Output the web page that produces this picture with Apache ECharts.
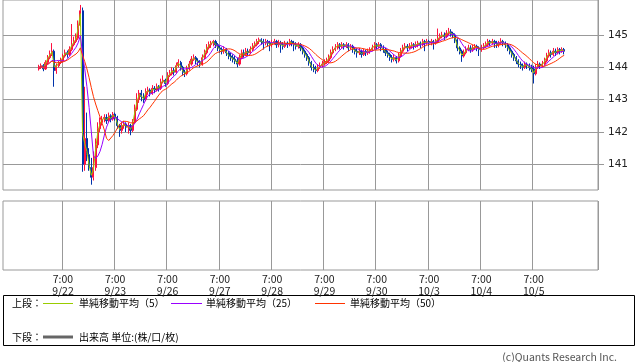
<!DOCTYPE html>
<html><head><meta charset="utf-8">
<script src="https://cdn.jsdelivr.net/npm/echarts@6/dist/echarts.min.js"></script>
<style>html,body{margin:0;padding:0;background:#fff}#c{width:638px;height:362px}</style>
</head><body><div id="c"></div><script>
// Tick labels
const dayLabels = ['9/22','9/23','9/26','9/27','9/28','9/29','9/30','10/3','10/4','10/5'];
const timeLabel = '7:00';
const yTicks = [141,142,143,144,145];
// moving-average periods (in 15-minute bars) and bars per hourly slot
const maPeriods = [5, 25, 50];
const barsPerHour = 4;
// hourly bars
const open0 = 143.95;
const closes = [
144.00,144.05,143.95,144.15,144.30,144.40,144.50,143.90,144.05,144.15,
144.20,144.35,144.45,144.40,144.55,144.70,144.80,144.90,145.30,145.75,
141.00,141.80,141.30,140.90,140.60,140.90,141.60,142.10,142.30,142.40,
142.45,142.35,142.50,142.40,142.55,142.45,142.20,142.05,142.20,142.25,
142.15,142.20,142.05,142.30,142.70,143.00,143.20,143.10,143.00,143.25,
143.30,143.20,143.35,143.30,143.40,143.35,143.55,143.60,143.50,143.75,
143.80,143.90,143.85,144.05,144.15,144.00,143.85,143.80,143.95,144.10,
144.25,144.30,144.20,144.15,144.10,144.30,144.45,144.60,144.70,144.75,
144.80,144.70,144.60,144.55,144.50,144.55,144.45,144.35,144.30,144.25,
144.20,144.10,144.30,144.45,144.40,144.50,144.45,144.55,144.65,144.70,
144.80,144.85,144.80,144.75,144.80,144.75,144.70,144.75,144.80,144.70,
144.75,144.70,144.65,144.75,144.70,144.80,144.75,144.70,144.65,144.70,
144.60,144.50,144.40,144.30,144.15,144.00,143.95,143.90,144.00,144.05,
144.10,144.15,144.20,144.30,144.45,144.55,144.60,144.70,144.65,144.70,
144.65,144.70,144.60,144.65,144.55,144.50,144.45,144.50,144.40,144.50,
144.45,144.50,144.55,144.60,144.70,144.65,144.70,144.60,144.55,144.45,
144.40,144.30,144.25,144.30,144.20,144.35,144.50,144.60,144.65,144.60,
144.65,144.70,144.65,144.70,144.75,144.70,144.80,144.75,144.80,144.75,
144.80,144.75,144.80,144.90,144.95,145.00,144.95,145.05,145.10,145.05,
145.00,144.85,144.60,144.50,144.35,144.45,144.55,144.60,144.55,144.60,
144.65,144.60,144.55,144.60,144.65,144.70,144.80,144.75,144.80,144.75,
144.70,144.75,144.80,144.75,144.70,144.60,144.50,144.40,144.30,144.20,
144.10,144.05,144.00,144.10,144.05,144.00,143.95,143.80,144.00,144.10,
144.05,144.10,144.20,144.35,144.45,144.40,144.50,144.45,144.55,144.50,
144.55,144.50];
const highs = [
144.08,144.12,144.10,144.22,144.38,144.52,144.75,144.55,144.12,144.20,
144.30,144.42,144.55,144.52,144.65,145.34,144.95,145.05,145.45,145.93,
145.85,143.40,142.60,141.50,141.20,141.40,141.80,142.30,142.45,142.50,
142.55,142.55,142.60,142.55,142.62,142.60,142.50,142.25,142.30,142.35,
142.30,142.30,142.25,142.40,142.85,143.20,143.30,143.30,143.20,143.35,
143.40,143.35,143.45,143.42,143.50,143.45,143.65,143.75,143.65,143.85,
143.92,144.00,143.98,144.15,144.25,144.20,144.05,143.92,144.05,144.20,
144.35,144.40,144.35,144.28,144.22,144.40,144.55,144.72,144.80,144.82,
144.85,144.85,144.75,144.68,144.62,144.65,144.60,144.50,144.45,144.40,
144.35,144.30,144.40,144.55,144.55,144.60,144.58,144.65,144.75,144.80,
144.88,144.92,144.90,144.88,144.88,144.85,144.82,144.85,144.88,144.85,
144.85,144.82,144.78,144.82,144.80,144.88,144.85,144.82,144.78,144.78,
144.75,144.65,144.55,144.45,144.35,144.20,144.10,144.05,144.10,144.15,
144.20,144.25,144.30,144.40,144.55,144.65,144.72,144.78,144.75,144.78,
144.75,144.78,144.75,144.72,144.70,144.62,144.58,144.60,144.55,144.58,
144.55,144.58,144.62,144.70,144.78,144.75,144.78,144.75,144.68,144.60,
144.52,144.45,144.38,144.40,144.35,144.45,144.60,144.70,144.75,144.72,
144.75,144.78,144.75,144.80,144.82,144.80,144.88,144.85,144.88,144.85,
144.88,144.85,144.88,145.20,145.05,145.10,145.08,145.15,145.22,145.18,
145.10,145.05,144.90,144.65,144.55,144.55,144.65,144.70,144.68,144.70,
144.72,144.70,144.65,144.70,144.75,144.80,144.88,144.85,144.88,144.85,
144.82,144.82,144.90,144.85,144.80,144.75,144.65,144.55,144.45,144.35,
144.25,144.18,144.12,144.18,144.15,144.12,144.08,144.05,144.10,144.20,
144.15,144.20,144.30,144.45,144.55,144.52,144.60,144.58,144.62,144.60,
144.62,144.60];
const lows = [
143.90,143.95,143.88,143.92,144.10,144.25,144.35,143.40,143.80,144.00,
144.10,144.15,144.30,144.30,144.35,144.50,144.65,144.75,144.85,145.25,
140.77,140.80,141.10,140.80,140.37,140.50,140.80,141.50,142.00,142.20,
142.30,142.25,142.30,142.30,142.35,142.35,142.10,141.85,141.95,142.10,
142.00,141.95,141.90,142.00,142.25,142.65,142.90,142.95,142.90,142.95,
143.15,143.10,143.15,143.20,143.25,143.25,143.30,143.50,143.40,143.45,
143.70,143.75,143.75,143.80,144.00,143.90,143.75,143.70,143.75,143.90,
144.05,144.20,144.10,144.05,144.00,144.05,144.25,144.40,144.55,144.60,
144.65,144.60,144.50,144.45,144.40,144.42,144.35,144.25,144.20,144.15,
144.10,144.00,144.05,144.25,144.30,144.35,144.35,144.40,144.50,144.60,
144.65,144.72,144.70,144.55,144.68,144.65,144.50,144.62,144.70,144.60,
144.62,144.45,144.55,144.60,144.60,144.65,144.65,144.50,144.55,144.58,
144.50,144.40,144.30,144.20,144.05,143.90,143.85,143.80,143.85,143.95,
144.00,144.05,144.10,144.15,144.25,144.40,144.50,144.55,144.55,144.60,
144.55,144.60,144.50,144.55,144.45,144.40,144.30,144.38,144.30,144.35,
144.35,144.38,144.42,144.50,144.55,144.55,144.58,144.50,144.45,144.35,
144.30,144.20,144.15,144.18,144.12,144.15,144.30,144.45,144.55,144.50,
144.55,144.58,144.55,144.60,144.62,144.60,144.65,144.50,144.70,144.65,
144.68,144.55,144.70,144.75,144.85,144.90,144.85,144.90,145.00,144.95,
144.90,144.75,144.50,144.40,144.17,144.30,144.40,144.50,144.45,144.48,
144.55,144.50,144.35,144.48,144.55,144.60,144.65,144.65,144.70,144.60,
144.60,144.62,144.70,144.65,144.60,144.50,144.40,144.30,144.20,144.10,
144.00,143.95,143.90,143.95,143.95,143.90,143.85,143.50,143.75,143.95,
143.95,144.00,144.05,144.15,144.30,144.30,144.35,144.35,144.40,144.40,
144.45,144.40];

// axis structure: hourly slots; first slot of each 7:00 session
const totalSlots = 273;
const firstBarSlot = 16;
const firstDaySlot = 27;
const hoursPerDay = 24;

const cats = [];
for (let i = 0; i < totalSlots; i++) cats.push('s' + i);

const candle = [];
for (let i = 0; i < totalSlots; i++) {
  const k = i - firstBarSlot;
  if (k >= 0 && k < closes.length) {
    const o = k === 0 ? open0 : closes[k - 1];
    candle.push([o, closes[k], lows[k], highs[k]]);
  } else candle.push('-');
}
// rolling mean over the same time span as an N-bar 15-minute average
function ma(period) {
  const span = period / barsPerHour;
  const out = [];
  for (let i = 0; i < totalSlots; i++) {
    const k = i - firstBarSlot;
    if (k >= 0 && k < closes.length) {
      let rem = span, sum = 0, wt = 0;
      for (let j = 0; rem > 1e-9 && k - j >= 0; j++) {
        const a = Math.min(1, rem);
        sum += a * closes[k - j]; wt += a; rem -= a;
      }
      out.push(+(sum / wt).toFixed(4));
    } else out.push(null);
  }
  return out;
}
const isDay = (idx) => idx >= firstDaySlot && (idx - firstDaySlot) % hoursPerDay === 0 && (idx - firstDaySlot) / hoursPerDay < dayLabels.length;

const FONT = '"Noto Sans CJK JP", "Noto Sans", sans-serif';
const chart = echarts.init(document.getElementById('c'), null, {renderer: 'canvas'});
const gridLine = {show: true, interval: (idx) => isDay(idx), lineStyle: {color: '#999', width: 1}};
const maColors = ['#99cc00', '#9900ff', '#ff3300'];
chart.setOption({
  animation: false,
  backgroundColor: '#fff',
  grid: [
    {left: 3, top: 0, width: 595, height: 190, show: true, borderColor: '#999', borderWidth: 1, backgroundColor: '#fff'},
    {left: 3, top: 201, width: 595, height: 69, show: true, borderColor: '#999', borderWidth: 1, backgroundColor: '#fff'}
  ],
  xAxis: [
    {type: 'category', gridIndex: 0, data: cats, boundaryGap: true,
     axisLine: {show: false}, axisTick: {show: false}, axisLabel: {show: false}, splitLine: gridLine},
    {type: 'category', gridIndex: 1, data: cats, boundaryGap: true,
     axisLine: {show: false}, axisTick: {show: false}, splitLine: gridLine,
     axisLabel: {show: true, interval: (idx) => isDay(idx), margin: 3,
       formatter: (v, idx) => timeLabel + '\n' + dayLabels[(idx - firstDaySlot) / hoursPerDay],
       fontFamily: FONT, fontSize: 10.5, lineHeight: 12, color: '#222'}}
  ],
  yAxis: [
    {type: 'value', gridIndex: 0, position: 'right', min: 140.206, max: 146.083, splitNumber: 5, scale: true,
     axisLine: {show: false},
     axisTick: {show: true, length: 6, inside: false, customValues: yTicks, lineStyle: {color: '#999'}},
     axisLabel: {show: true, margin: 10, customValues: yTicks, fontFamily: '"DejaVu Sans", sans-serif', fontSize: 10.5, color: '#222',
       formatter: (v) => Number.isInteger(v) ? String(v) : ''},
     splitLine: {show: true, lineStyle: {color: '#999', width: 1}}},
    {type: 'value', gridIndex: 1, min: 0, max: 1, axisLine: {show: false}, axisTick: {show: false}, axisLabel: {show: false}, splitLine: {show: false}}
  ],
  series: [
    {type: 'candlestick', xAxisIndex: 0, yAxisIndex: 0, data: candle, barWidth: 1.6,
     itemStyle: {color: '#ff1040', color0: '#0033aa', borderColor: '#ff1040', borderColor0: '#0033aa', borderWidth: 1}},
    ...maPeriods.map((p, i) => ({type: 'line', name: 'MA' + p, xAxisIndex: 0, yAxisIndex: 0, data: ma(p), showSymbol: false,
      lineStyle: {color: maColors[i], width: 1}}))
  ],
  graphic: [
    {type: 'rect', shape: {x: 3.5, y: 295.5, width: 631, height: 50}, style: {fill: '#fff', stroke: '#000', lineWidth: 1}},
    {type: 'text', x: 12, y: 303.5, style: {text: '上段：', font: '10px ' + FONT, fill: '#000', verticalAlign: 'middle'}},
    {type: 'line', shape: {x1: 43, y1: 303.5, x2: 73, y2: 303.5}, style: {stroke: maColors[0], lineWidth: 1}},
    {type: 'text', x: 79, y: 303.5, style: {text: '単純移動平均（5）', font: '10px ' + FONT, fill: '#000', verticalAlign: 'middle'}},
    {type: 'line', shape: {x1: 171, y1: 303.5, x2: 202, y2: 303.5}, style: {stroke: maColors[1], lineWidth: 1}},
    {type: 'text', x: 206, y: 303.5, style: {text: '単純移動平均（25）', font: '10px ' + FONT, fill: '#000', verticalAlign: 'middle'}},
    {type: 'line', shape: {x1: 315, y1: 303.5, x2: 345, y2: 303.5}, style: {stroke: maColors[2], lineWidth: 1}},
    {type: 'text', x: 350, y: 303.5, style: {text: '単純移動平均（50）', font: '10px ' + FONT, fill: '#000', verticalAlign: 'middle'}},
    {type: 'text', x: 12, y: 337, style: {text: '下段：', font: '10px ' + FONT, fill: '#000', verticalAlign: 'middle'}},
    {type: 'line', shape: {x1: 43, y1: 337, x2: 73, y2: 337}, style: {stroke: '#666', lineWidth: 3}},
    {type: 'text', x: 79, y: 337, style: {text: '出来高 単位:(株/口/枚)', font: '10px ' + FONT, fill: '#000', verticalAlign: 'middle'}},
    {type: 'text', x: 617, y: 357, style: {text: '(c)Quants Research Inc.', font: '10.5px ' + FONT, fill: '#555', align: 'right', verticalAlign: 'middle'}}
  ]
});
</script></body></html>
